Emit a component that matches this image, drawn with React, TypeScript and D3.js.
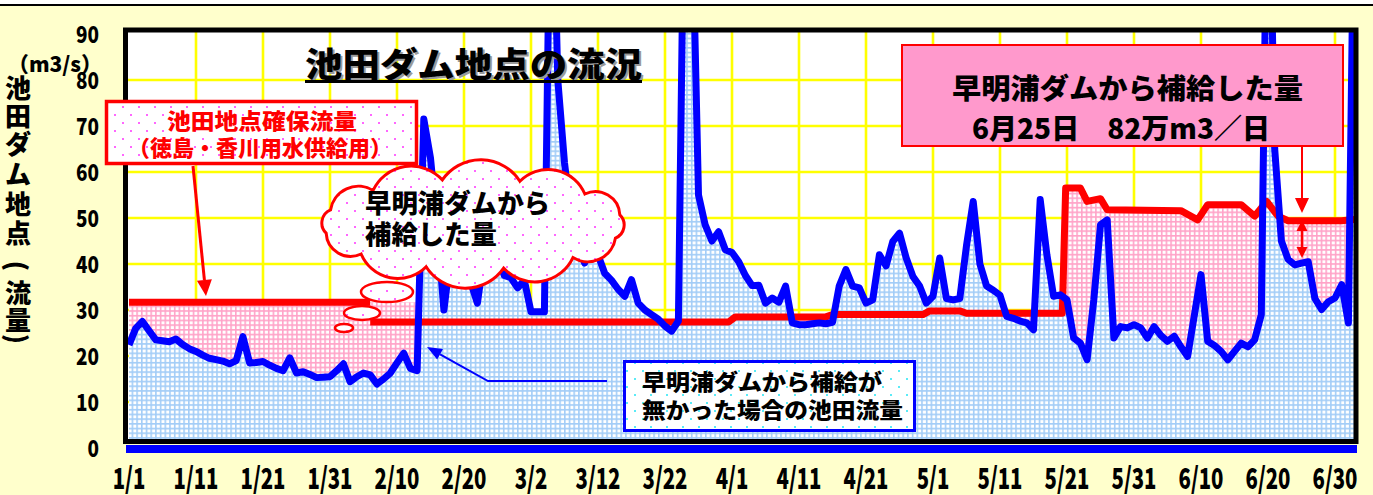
import React from 'react';
import * as d3 from 'd3';

const W = 1373;
const H = 495;

// ---- data ----
const xTickDays = [0, 10, 20, 30, 40, 50, 60, 70, 80, 90, 100, 110, 120, 130, 140, 150, 160, 170, 180];
const xTickLabels = ['1/1', '1/11', '1/21', '1/31', '2/10', '2/20', '3/2', '3/12', '3/22', '4/1', '4/11', '4/21', '5/1', '5/11', '5/21', '5/31', '6/10', '6/20', '6/30'];
const yTickValues = [0, 10, 20, 30, 40, 50, 60, 70, 80, 90];

// daily flow without Sameura supply (m3/s), from 1/1
const blueFlow = [
  22.4, 26, 27.5, 25.5, 23.5, 23.3, 23.1, 23.7, 22.5, 21.6,
  21, 20.2, 19.5, 19.2, 18.9, 18.3, 19, 24.2, 18.5, 18.6,
  18.8, 18, 17.3, 16.8, 19.6, 16.3, 16.6, 16, 15.3, 15.4,
  15.5, 16.8, 18.3, 14.4, 15.5, 16.3, 15.9, 13.9, 15, 16.3,
  18.5, 20.6, 17.3, 16.8, 71.5, 63, 48, 30, 42, 45,
  38, 36, 31.5, 42, 45, 42, 37.5, 37, 34.8, 36.5,
  29.6, 29.6, 29.6, 140, 80, 62, 50, 44, 40.2, 44.5,
  42, 38, 36.5, 34.5, 33, 36.6, 31.5, 30, 29, 28,
  26.5, 25.4, 27.6, 140, 120, 55, 48.5, 45, 47, 43.1,
  42.5, 40.5, 37.5, 35.3, 35.4, 31.5, 32.6, 31.7, 35.2, 27.2,
  26.8, 26.8, 27, 27.2, 27, 27.3, 35.2, 38.8, 35.2, 34.8,
  31.5, 32.2, 42, 39.6, 44.9, 46.7, 41.3, 37.3, 35.2, 31.5,
  33, 41.3, 32.5, 32.2, 32.5, 44, 53.6, 40, 35.2, 34.3,
  33.2, 28.6, 28.2, 27.6, 27.2, 25.7, 54, 42, 33, 33.3,
  32.2, 23.9, 22.8, 19.2, 32.2, 48.5, 49.6, 23.9, 26.4, 26.1,
  26.8, 26.1, 23.9, 26.4, 24.5, 23.2, 24.3, 22, 19.9, 28.8,
  37.7, 23.2, 22.3, 21, 19.2, 21, 22.8, 22, 23.5, 29,
  140, 65, 45, 41, 39.8, 40.2, 40.5, 32.5, 30.1, 31.8,
  32.6, 35.5, 27.2, 140,
];

// guaranteed flow at Ikeda (early period, upper red line)
const reqEarlyDays = [0, 36];
const reqEarlyValues = [31.7, 31.7];
const reqEarlyFillEnd = 44;

// guaranteed flow at Ikeda (main red line)
const reqDays = [36, 89.5, 90.5, 104, 105, 118.5, 119.5, 124, 125, 139.3, 139.8, 142, 143, 145, 146, 157, 159.5, 161, 166, 168, 169.8, 171.5, 173, 181, 183];
const reqValues = [27.4, 27.4, 28.5, 28.5, 29, 29, 29.8, 29.8, 29.3, 29.3, 56.5, 56.5, 53.6, 54.2, 51.8, 51.6, 49.6, 52.9, 52.9, 50.4, 53.6, 50.4, 49.4, 49.4, 49.7];

const JP = "'Noto Sans CJK JP', 'Noto Sans', sans-serif";

function headPoints(x1: number, y1: number, x2: number, y2: number, len: number, w: number) {
  const dx = x2 - x1, dy = y2 - y1;
  const L = Math.hypot(dx, dy);
  const ux = dx / L, uy = dy / L;
  const bx = x2 - ux * len, by = y2 - uy * len;
  const px = -uy, py = ux;
  return {
    pts: `${x2},${y2} ${bx + px * w},${by + py * w} ${bx - px * w},${by - py * w}`,
    bx, by,
  };
}

function cloudPath(cx: number, cy: number, rx: number, ry: number, n: number, off: number) {
  const pts: [number, number][] = [];
  for (let i = 0; i < n; i++) {
    const t = off + (2 * Math.PI * i) / n;
    pts.push([cx + rx * Math.cos(t), cy + ry * Math.sin(t)]);
  }
  let d = `M${pts[0][0]},${pts[0][1]}`;
  for (let i = 0; i < n; i++) {
    const a = pts[i], b = pts[(i + 1) % n];
    const c = Math.hypot(b[0] - a[0], b[1] - a[1]);
    const r = c * 0.6;
    d += ` A${r},${r} 0 0 1 ${b[0]},${b[1]}`;
  }
  return d + 'Z';
}

export default function App() {
  const x = d3.scaleLinear().domain([0, 180]).range([129, 1335]);
  const y = d3.scaleLinear().domain([0, 90]).range([448, 34]);

  const plot = { left: 128, right: 1354, top: 32, bottom: 440 };

  const blueIdx = blueFlow.map((v, i) => [i, v] as [number, number]);
  const blueArea = d3.area<[number, number]>().x(d => x(d[0])).y0(y(0)).y1(d => y(d[1]))(blueIdx) || '';
  const blueLine = d3.line<[number, number]>().x(d => x(d[0])).y(d => y(d[1]))(blueIdx) || '';

  const reqPts = reqDays.map((dd, i) => [dd, reqValues[i]] as [number, number]);
  const earlyPts = reqEarlyDays.map((dd, i) => [dd, reqEarlyValues[i]] as [number, number]);
  const pinkPts: [number, number][] = [
    [reqEarlyDays[0], reqEarlyValues[0]],
    [reqEarlyFillEnd, reqEarlyValues[1]],
    [reqEarlyFillEnd, d3.scaleLinear().domain(reqDays).range(reqValues)(reqEarlyFillEnd)],
    ...reqPts.filter(p => p[0] > reqEarlyFillEnd),
  ];
  const pinkArea = d3.area<[number, number]>().x(d => x(d[0])).y0(y(0)).y1(d => y(d[1]))(pinkPts) || '';
  const redLine = d3.line<[number, number]>().x(d => x(d[0])).y(d => y(d[1]))(reqPts) || '';
  const redEarly = d3.line<[number, number]>().x(d => x(d[0])).y(d => y(d[1]))(earlyPts) || '';

  const vGrid = xTickDays.filter(dd => dd > 0);
  const hGrid = yTickValues.filter(v => v > 0 && v < 90);

  const yTitle: [string, number, boolean][] = [
    ['池', 86, false], ['田', 114, false], ['ダ', 142, false], ['ム', 172, false], ['地', 202, false], ['点', 231, false],
    ['(', 266, true], ['流', 291, false], ['量', 318, false], [')', 339, true],
  ];

  const a1 = headPoints(193, 166, 206, 296, 16, 7.5);
  const a2 = headPoints(488, 381, 427, 347, 15, 6);
  const a3 = headPoints(1302, 146, 1302, 213, 15, 7);
  const a4u = headPoints(1302, 240, 1302, 220, 11, 5.5);
  const a4d = headPoints(1302, 240, 1302, 258, 11, 5.5);

  return (
    <svg width={W} height={H} style={{ position: 'absolute', left: 0, top: 0 }} xmlns="http://www.w3.org/2000/svg">
      <defs>
        <pattern id="blueGrid" patternUnits="userSpaceOnUse" width="4.7" height="4.7">
          <rect width="4.7" height="4.7" fill="#fff" />
          <path d="M0 0.8H4.7M0.8 0V4.7" stroke="#A3CDF7" strokeWidth="1.6" />
        </pattern>
        <pattern id="pinkGrid" patternUnits="userSpaceOnUse" width="4.7" height="4.7">
          <rect width="4.7" height="4.7" fill="#fff" />
          <path d="M0 0.8H4.7M0.8 0V4.7" stroke="#FFA3C8" strokeWidth="1.6" />
        </pattern>
        <pattern id="pinkDots" patternUnits="userSpaceOnUse" width="16" height="16">
          <rect width="16" height="16" fill="#fff" />
          <circle cx="3" cy="3" r="1" fill="#FF33FF" />
          <circle cx="11" cy="11" r="1" fill="#FF33FF" />
        </pattern>
        <pattern id="cyanDots" patternUnits="userSpaceOnUse" width="16" height="16">
          <rect width="16" height="16" fill="#fff" />
          <circle cx="3" cy="3" r="1" fill="#22E5F5" />
          <circle cx="11" cy="11" r="1" fill="#22E5F5" />
        </pattern>
        <clipPath id="plotClip">
          <rect x={plot.left} y={plot.top} width={plot.right - plot.left} height={plot.bottom - plot.top} />
        </clipPath>
      </defs>

      {/* page background */}
      <rect x={0} y={0} width={W} height={H} fill="#fff" />
      <rect x={0} y={6} width={W} height={H - 6} fill="#FFFFCC" />
      <line x1={0} x2={W} y1={5} y2={5} stroke="#000" strokeWidth={2} />

      {/* plot area */}
      <rect x={plot.left} y={plot.top} width={plot.right - plot.left} height={plot.bottom - plot.top} fill="#fff" />
      <g stroke="#FFFF00" strokeWidth={2.6}>
        {vGrid.map(dd => <line key={'v' + dd} x1={x(dd)} x2={x(dd)} y1={plot.top} y2={plot.bottom} />)}
        {hGrid.map(v => <line key={'h' + v} x1={plot.left} x2={plot.right} y1={y(v)} y2={y(v)} />)}
      </g>

      <g clipPath="url(#plotClip)">
        <path d={pinkArea} fill="url(#pinkGrid)" />
        <path d={blueArea} fill="url(#blueGrid)" />
        <path d={redEarly} fill="none" stroke="#FF0000" strokeWidth={7} />
        <path d={redLine} fill="none" stroke="#FF0000" strokeWidth={7} strokeLinejoin="round" />
        <path d={blueLine} fill="none" stroke="#0000FF" strokeWidth={7} strokeLinejoin="round" />
      </g>

      {/* frame */}
      <rect x={125.5} y={30} width={1356 - 125.5} height={441.5 - 30} fill="none" stroke="#000" strokeWidth={5} />
      <line x1={126} x2={1357} y1={449} y2={449} stroke="#0000FF" strokeWidth={8} />

      {/* y ticks */}
      <g fontFamily={JP} fontWeight={900} fontSize={23} fill="#000">
        {yTickValues.map(v => (
          <text key={'yt' + v} x={99} y={y(v) + 8.5} textAnchor="end"
            textLength={String(v).length * 11.5} lengthAdjust="spacingAndGlyphs">{v}</text>
        ))}
      </g>
      {/* x ticks */}
      <g fontFamily={JP} fontWeight={900} fontSize={29} fill="#000">
        {xTickDays.map((dd, i) => {
          const lab = xTickLabels[i];
          const nd = lab.replace('/', '').length;
          return (
            <text key={'xt' + dd} x={x(dd)} y={489} textAnchor="middle"
              textLength={nd * 12.3 + 8} lengthAdjust="spacingAndGlyphs">{lab}</text>
          );
        })}
      </g>

      {/* y-axis title */}
      <g fontFamily={JP} fontWeight={900} fontSize={26} fill="#000">
        {yTitle.map(([ch, cy, rot], i) => (
          <text key={'yc' + i} x={18} y={cy} textAnchor="middle" dominantBaseline="central"
            transform={rot ? `rotate(90 18 ${cy})` : undefined}>{ch}</text>
        ))}
      </g>
      <text x={8} y={72} fontFamily={JP} fontWeight={900} fontSize={21} fill="#000"
        textLength={94} lengthAdjust="spacingAndGlyphs">（m3/s）</text>

      {/* title */}
      <text x={307} y={79} fontFamily={JP} fontWeight={900} fontSize={34} fill="#9a9a9a"
        textLength={337} lengthAdjust="spacingAndGlyphs">池田ダム地点の流況</text>
      <text x={305} y={77} fontFamily={JP} fontWeight={900} fontSize={34} fill="#000"
        textLength={337} lengthAdjust="spacingAndGlyphs">池田ダム地点の流況</text>
      <line x1={305} x2={642} y1={81.5} y2={81.5} stroke="#000" strokeWidth={3} />

      {/* guaranteed-flow label box */}
      <rect x={106.5} y={101.5} width={310} height={62} fill="url(#pinkDots)" stroke="#FF0000" strokeWidth={3.5} />
      <text x={262} y={129} textAnchor="middle" fontFamily={JP} fontWeight={900} fontSize={22} fill="#FF0000"
        textLength={190} lengthAdjust="spacingAndGlyphs">池田地点確保流量</text>
      <text x={260} y={156} textAnchor="middle" fontFamily={JP} fontWeight={900} fontSize={22} fill="#FF0000"
        textLength={264} lengthAdjust="spacingAndGlyphs">（徳島・香川用水供給用）</text>
      <line x1={193} y1={166} x2={a1.bx} y2={a1.by} stroke="#FF0000" strokeWidth={3} />
      <polygon points={a1.pts} fill="#FF0000" />

      {/* cloud callout */}
      <ellipse cx={344} cy={328} rx={9} ry={4} fill="url(#pinkDots)" stroke="#FF0000" strokeWidth={2.5} />
      <ellipse cx={362} cy={313} rx={18} ry={7} fill="url(#pinkDots)" stroke="#FF0000" strokeWidth={2.5} />
      <ellipse cx={387} cy={292} rx={26} ry={10} fill="url(#pinkDots)" stroke="#FF0000" strokeWidth={2.5} />
      <path d={cloudPath(473, 224, 150, 45, 12, -2.3)} fill="url(#pinkDots)" stroke="#FF0000" strokeWidth={3} />
      <text x={365} y={213} fontFamily={JP} fontWeight={900} fontSize={26} fill="#000"
        textLength={185} lengthAdjust="spacingAndGlyphs">早明浦ダムから</text>
      <text x={365} y={244} fontFamily={JP} fontWeight={900} fontSize={26} fill="#000"
        textLength={132} lengthAdjust="spacingAndGlyphs">補給した量</text>

      {/* blue label box */}
      <rect x={624.5} y={361.5} width={290} height={69} fill="url(#cyanDots)" stroke="#0000FF" strokeWidth={3} />
      <text x={642} y={390} fontFamily={JP} fontWeight={900} fontSize={22} fill="#000"
        textLength={240} lengthAdjust="spacingAndGlyphs">早明浦ダムから補給が</text>
      <text x={642} y={418} fontFamily={JP} fontWeight={900} fontSize={22} fill="#000"
        textLength={261} lengthAdjust="spacingAndGlyphs">無かった場合の池田流量</text>
      <polyline points={`607,381 488,381 ${a2.bx},${a2.by}`} fill="none" stroke="#0000FF" strokeWidth={2} />
      <polygon points={a2.pts} fill="#0000FF" />

      {/* supply amount box */}
      <rect x={902} y={45} width={441} height={101} fill="#FF99CC" stroke="#FF0000" strokeWidth={2} />
      <text x={952} y={99} fontFamily={JP} fontWeight={900} fontSize={28} fill="#000"
        textLength={351} lengthAdjust="spacingAndGlyphs">早明浦ダムから補給した量</text>
      <text x={972} y={139} fontFamily={JP} fontWeight={900} fontSize={28} fill="#000"
        textLength={298} lengthAdjust="spacingAndGlyphs">6月25日　82万m3／日</text>
      <line x1={1302} y1={146} x2={a3.bx} y2={a3.by} stroke="#FF0000" strokeWidth={2} />
      <polygon points={a3.pts} fill="#FF0000" />
      <line x1={a4u.bx} y1={a4u.by} x2={a4d.bx} y2={a4d.by} stroke="#FF0000" strokeWidth={2.5} />
      <polygon points={a4u.pts} fill="#FF0000" />
      <polygon points={a4d.pts} fill="#FF0000" />
    </svg>
  );
}
